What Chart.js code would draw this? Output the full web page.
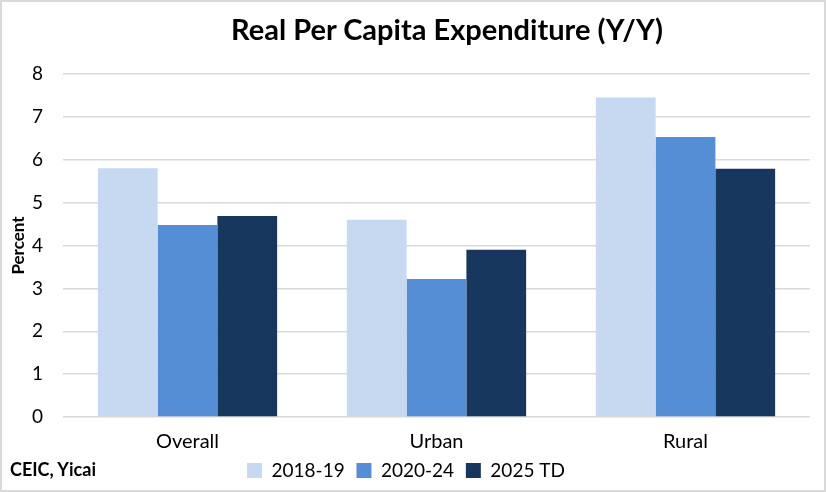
<!DOCTYPE html>
<html>
<head>
<meta charset="utf-8">
<script src="https://cdn.jsdelivr.net/npm/chart.js@4"></script>
<style>
  html, body { margin: 0; padding: 0; background: #fff; }
  #wrap { position: relative; width: 822px; height: 488px; border: 2px solid #d9d9d9; }
  #title { position: absolute; left: 445px; top: 9px; transform: translateX(-50%); white-space: nowrap;
    font: bold 29px Lato, sans-serif; color: #000; }
  #src { position: absolute; left: 8px; top: 456px; font: bold 18px Lato, sans-serif; color: #000; }
</style>
</head>
<body>
<div id="wrap">
  <canvas id="chart" width="822" height="488"></canvas>
  <div id="title">Real Per Capita Expenditure (Y/Y)</div>
  <div id="src">CEIC, Yicai</div>
</div>
<script>
const categories = ['Overall', 'Urban', 'Rural'];
const seriesNames = ['2018-19', '2020-24', '2025 TD'];
const s2018 = [5.8, 4.6, 7.45];
const s2020 = [4.48, 3.22, 6.53];
const s2025 = [4.69, 3.9, 5.79];
const yTicks = [0, 1, 2, 3, 4, 5, 6, 7, 8];

const COLORS = ['#c6d9f1', '#558ed5', '#17375e'];
const FONT = 'Lato, sans-serif';

// default legend items, with a little trailing space so the entries don't touch
const spacedLabels = (chart) =>
  Chart.defaults.plugins.legend.labels.generateLabels(chart)
    .map((l, i, arr) => ({ ...l, text: i < arr.length - 1 ? l.text + '  ' : l.text }));

new Chart(document.getElementById('chart'), {
  type: 'bar',
  data: {
    labels: categories,
    datasets: [s2018, s2020, s2025].map((d, i) => ({
      label: seriesNames[i], data: d, backgroundColor: COLORS[i],
      categoryPercentage: 0.72, barPercentage: 1.0
    }))
  },
  options: {
    responsive: false, animation: false,
    layout: { padding: { left: 0, right: 14, top: 72, bottom: 0 } },
    plugins: {
      legend: { position: 'bottom', labels: { color: '#000', boxWidth: 15, boxHeight: 15,
        font: { family: FONT, size: 19 }, padding: 2, generateLabels: spacedLabels } },
      tooltip: { enabled: false }
    },
    scales: {
      x: {
        grid: { display: false }, border: { display: false },
        ticks: { color: '#000', font: { family: FONT, size: 20 }, padding: 5 }
      },
      y: {
        min: 0, max: 8,
        afterBuildTicks: (ax) => { ax.ticks = yTicks.map(v => ({ value: v })); },
        afterFit: (ax) => { ax.width = 61; },
        grid: { color: '#d9d9d9', lineWidth: 1.5, drawTicks: false },
        border: { display: false },
        ticks: { color: '#000', font: { family: FONT, size: 19 }, padding: 20 },
        title: { display: true, text: 'Percent', color: '#000', font: { family: FONT, size: 17, weight: 'bold' }, padding: { top: 6, bottom: 0 } }
      }
    }
  }
});
</script>
</body>
</html>
